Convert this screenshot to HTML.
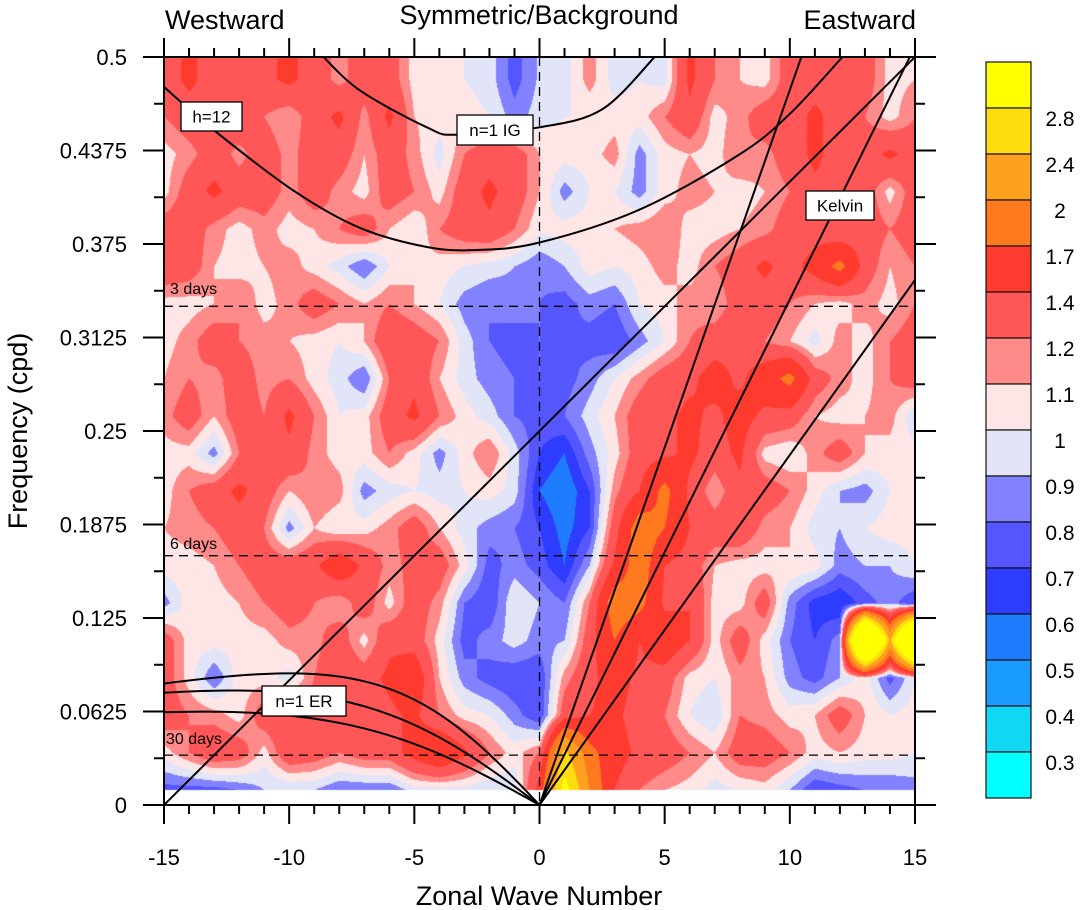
<!DOCTYPE html>
<html><head><meta charset="utf-8">
<style>
body{margin:0;background:#fff;}
#wrap{position:relative;width:1080px;height:910px;overflow:hidden;font-family:"Liberation Sans",sans-serif;}
canvas,svg{position:absolute;left:0;top:0;}
</style></head>
<body>
<div id="wrap">
<canvas id="cv" width="1080" height="910"></canvas>
<svg id="sv" width="1080" height="910"></svg>
</div>
<script>
// ---- data ----
const wavenumbers = [-15,-14,-13,-12,-11,-10,-9,-8,-7,-6,-5,-4,-3,-2,-1,0,1,2,3,4,5,6,7,8,9,10,11,12,13,14,15];
const freqs = [0.485,0.46,0.435,0.41,0.385,0.36,0.335,0.31,0.285,0.26,0.235,0.21,0.185,0.16,0.135,0.11,0.085,0.06,0.035,0.01];
const row0485=[1.3,1.45,1.3,1.3,1.35,1.45,1.3,1.15,1.3,1.3,1.05,1.05,1.0,0.95,0.75,0.92,0.95,1.15,0.95,1.0,0.95,1.45,1.2,1.1,1.05,1.3,1.3,1.35,1.3,1.05,1.1];
const row0460=[1.2,1.3,1.3,1.35,1.2,1.1,1.3,1.45,1.15,1.45,1.1,1.05,1.05,1.0,0.85,0.95,1.0,1.0,1.05,1.05,1.2,1.35,1.05,1.15,1.3,1.3,1.45,1.3,1.2,1.05,1.2];
const row0435=[1.05,1.15,1.3,1.15,1.3,1.15,1.3,1.3,1.1,1.3,1.15,0.95,1.2,1.3,1.3,1.1,1.05,1.05,1.15,0.85,1.05,1.1,1.05,1.2,1.15,1.3,1.45,1.3,1.3,1.45,1.3];
const row0410=[1.05,1.3,1.45,1.3,1.3,1.15,1.3,1.15,1.05,1.3,1.2,1.05,1.3,1.45,1.3,1.1,0.85,1.0,1.0,0.85,1.05,1.15,1.1,1.05,1.1,1.2,1.35,1.35,1.3,1.05,1.3];
const row0385=[1.3,1.3,1.15,1.05,1.15,1.05,1.1,1.2,1.3,1.1,1.0,1.2,1.3,1.35,1.2,1.02,1.05,1.05,1.1,1.15,1.2,1.05,1.05,1.1,1.15,1.3,1.3,1.2,1.3,1.2,1.3];
const row0360=[1.35,1.3,1.1,1.05,1.1,1.15,1.05,0.95,0.8,1.0,1.1,1.05,1.0,0.95,0.9,0.82,0.9,1.05,1.0,1.05,1.15,1.05,1.2,1.3,1.45,1.3,1.5,1.8,1.3,1.1,1.2];
const row0335=[1.05,1.05,1.1,1.2,1.05,1.15,1.3,1.2,1.1,1.2,1.1,1.0,0.85,0.8,0.85,0.8,0.75,0.85,0.8,1.0,1.05,1.15,1.1,1.3,1.3,1.2,1.1,1.05,1.15,1.05,1.2];
const row0310=[1.05,1.15,1.3,1.2,1.15,1.1,1.05,1.0,1.1,1.35,1.3,1.2,0.95,0.8,0.75,0.8,0.8,0.75,0.7,0.85,1.0,1.2,1.3,1.35,1.2,1.1,0.95,1.15,1.05,1.2,1.3];
const row0285=[1.1,1.2,1.15,1.3,1.15,1.2,1.05,0.95,0.8,1.2,1.35,1.1,0.95,0.85,0.8,0.8,0.75,0.85,1.0,1.15,1.3,1.35,1.5,1.35,1.55,1.8,1.3,1.15,1.05,1.2,1.3];
const row0260=[1.15,1.3,1.1,1.3,1.2,1.45,1.2,1.0,1.05,1.3,1.45,1.2,1.05,0.95,0.8,0.75,0.8,0.95,1.1,1.3,1.35,1.45,1.35,1.5,1.35,1.3,1.1,1.05,1.1,1.15,0.9];
const row0235=[1.05,1.05,0.85,1.2,1.35,1.35,1.15,1.05,1.05,1.2,1.05,0.85,1.05,1.2,0.95,0.7,0.6,0.85,1.05,1.3,1.35,1.45,1.3,1.45,1.05,1.0,1.15,1.3,1.1,1.05,1.05];
const row0210=[1.05,1.2,1.3,1.45,1.3,1.1,1.2,1.15,0.85,0.95,1.0,0.95,1.0,1.05,0.95,0.6,0.5,0.7,1.15,1.4,1.8,1.35,1.1,1.35,1.3,1.2,1.05,0.9,0.85,1.0,1.05];
const row0185=[1.1,1.15,1.2,1.3,1.2,0.85,1.1,1.0,1.05,1.15,1.3,1.1,0.95,0.85,0.8,0.7,0.55,0.7,1.3,1.9,1.7,1.4,1.3,1.35,1.15,1.1,0.95,0.9,1.0,1.05,1.05];
const row0160=[1.05,1.05,1.1,1.2,1.3,1.3,1.35,1.6,1.35,1.15,1.25,1.3,1.05,0.75,0.85,0.75,0.6,0.9,1.45,1.9,1.4,1.3,1.1,1.05,1.05,1.1,1.05,0.85,0.9,0.9,1.0];
const row0135=[0.85,1.05,1.05,1.1,1.2,1.3,1.2,1.1,1.3,1.05,1.3,1.15,0.8,0.7,1.0,0.9,0.8,1.2,1.9,1.8,1.35,1.4,1.05,1.05,1.3,0.85,0.65,0.6,0.75,0.85,0.7];
const row0110=[1.3,1.05,1.05,1.05,1.05,1.15,1.15,1.3,1.05,1.35,1.3,1.05,0.75,0.85,0.95,0.85,0.9,1.3,1.7,1.4,1.6,1.4,1.05,1.3,1.05,0.8,0.7,0.85,5.5,2.3,5.5];
const row0085=[1.3,1.05,0.8,1.05,1.05,0.95,1.2,1.35,1.3,1.45,1.6,1.1,0.85,0.75,0.7,0.7,1.15,1.35,1.5,1.35,1.3,1.05,1.0,1.15,1.1,0.85,0.75,0.9,1.05,0.75,1.0];
const row0060=[1.3,1.2,1.15,1.05,1.3,1.35,1.3,1.35,1.3,1.35,1.45,1.2,1.05,1.0,0.85,0.7,1.3,1.4,1.45,1.3,1.2,1.0,0.9,1.2,1.15,1.05,1.1,1.3,1.1,1.0,1.05];
const row0035=[1.05,1.2,1.35,1.3,1.05,1.35,1.3,1.2,1.3,1.3,1.5,1.7,1.45,1.2,1.05,1.2,2.5,1.8,1.5,1.35,1.3,1.2,1.1,1.3,1.3,1.2,1.05,1.1,1.05,1.05,1.0];
const row0010=[0.75,0.75,0.75,0.8,0.9,0.9,0.9,0.8,0.8,0.8,0.95,0.95,0.95,0.9,0.9,1.5,3.0,2.0,1.4,1.2,1.1,1.05,0.95,1.0,1.05,0.9,0.7,0.75,0.8,0.8,0.85];
const values=[row0485,row0460,row0435,row0410,row0385,row0360,row0335,row0310,row0285,row0260,row0235,row0210,row0185,row0160,row0135,row0110,row0085,row0060,row0035,row0010];
const levels=[0.3,0.4,0.5,0.6,0.7,0.8,0.9,1.0,1.1,1.2,1.4,1.7,2,2.4,2.8];
const levelLabels=["2.8","2.4","2","1.7","1.4","1.2","1.1","1","0.9","0.8","0.7","0.6","0.5","0.4","0.3"];
const colors=["#00FFFF","#10D8F4","#1A9CFF","#1F7CFF","#2E3CFF","#5656FF","#8282FF","#E2E5F8","#FFE6E6","#FF8A8A","#FF5757","#FF3B30","#FF7A1E","#FFA01E","#FFDC10","#FFFF00"];
const yTicks=[0,0.0625,0.125,0.1875,0.25,0.3125,0.375,0.4375,0.5];
const yTickLabels=["0","0.0625","0.125","0.1875","0.25","0.3125","0.375","0.4375","0.5"];
const xTicks=[-15,-10,-5,0,5,10,15];
const kelvinSlopes=[0.0478,0.0338,0.0234];
const igA_k=[-15,-13,-9.85,-7.2,-4.5,-2.5,0,4,8,10,12.1];
const igA_f=[0.48,0.451,0.411,0.386,0.373,0.371,0.376,0.398,0.435,0.462,0.5];
const igB_k=[-8.8,-7.2,-4.5,-3.3,0,2.5,4.6];
const igB_f=[0.503,0.478,0.453,0.448,0.453,0.465,0.5];
const erA=[1.76,1.875,1.674];
const erB=[100,150,180];
const periodDays=[3,6,30];

// ---- axes ----
const X0=164,X1=915,Y0=805,Y1=57;
function xOf(k){return X0+(k+15)*(X1-X0)/30;}
function yOf(f){return Y0-f*(Y0-Y1)/0.5;}

// ---- heatmap ----
const cv=document.getElementById('cv');const ctx=cv.getContext('2d');
ctx.fillStyle='#fff';ctx.fillRect(0,0,1080,910);
const rgb=colors.map(c=>[parseInt(c.substr(1,2),16),parseInt(c.substr(3,2),16),parseInt(c.substr(5,2),16)]);
const nF=freqs.length,nK=wavenumbers.length;
function sample(k,f){
  let c=(k-wavenumbers[0])/(wavenumbers[nK-1]-wavenumbers[0])*(nK-1);
  c=Math.max(0,Math.min(nK-1.0001,c));
  let r=(freqs[0]-f)/(freqs[0]-freqs[nF-1])*(nF-1);
  r=Math.max(0,Math.min(nF-1.0001,r));
  const c0=Math.floor(c),r0=Math.floor(r),dc=c-c0,dr=r-r0;
  const a=values[r0][c0],b=values[r0][c0+1],d=values[r0+1][c0],e=values[r0+1][c0+1];
  return (a*(1-dc)+b*dc)*(1-dr)+(d*(1-dc)+e*dc)*dr;
}
const yTop=Y1,yBot=Math.round(yOf(0.0102));
const img=ctx.createImageData(X1-X0,yBot-yTop);
for(let py=0;py<yBot-yTop;py++){
  const f=(Y0-(py+yTop+0.5))*0.5/(Y0-Y1);
  for(let px=0;px<X1-X0;px++){
    const k=(px+0.5)*30/(X1-X0)-15;
    const v=sample(k,f);
    let i=0;while(i<levels.length&&v>=levels[i])i++;
    const o=(py*(X1-X0)+px)*4,cc=rgb[i];
    img.data[o]=cc[0];img.data[o+1]=cc[1];img.data[o+2]=cc[2];img.data[o+3]=255;
  }
}
ctx.putImageData(img,X0,yTop);

// ---- svg overlay ----
const NS='http://www.w3.org/2000/svg';const sv=document.getElementById('sv');
function el(t,a,p){const e=document.createElementNS(NS,t);for(const k in a)e.setAttribute(k,a[k]);(p||sv).appendChild(e);return e;}
function txt(s,a,p){const e=el('text',a,p);e.textContent=s;return e;}
const clip=el('clipPath',{id:'pc'});el('rect',{x:X0,y:Y1,width:X1-X0,height:Y0-Y1},clip);
const g=el('g',{'clip-path':'url(#pc)'});


periodDays.forEach(d=>{
  const l=el('line',{x1:X0,x2:X1,y1:yOf(1/d),y2:yOf(1/d),stroke:'#000','stroke-width':1.3,'stroke-dasharray':'9,6'},g);
  
  
});
const vl=el('line',{x1:xOf(0),x2:xOf(0),y1:Y1,y2:Y0,stroke:'#000','stroke-width':1.3,'stroke-dasharray':'9,6'},g);


kelvinSlopes.forEach((s,i)=>{
  const l=el('line',{x1:xOf(0),y1:yOf(0),x2:xOf(15),y2:yOf(15*s),stroke:'#000','stroke-width':2},g);
  
  
});
const diag=el('line',{x1:xOf(-15),y1:yOf(0),x2:xOf(15),y2:yOf(0.5),stroke:'#000','stroke-width':2},g);


function smoothPath(ks,fs){
  const P=ks.map((k,i)=>[xOf(k),yOf(fs[i])]);let d='M'+P[0][0]+','+P[0][1];
  for(let i=0;i<P.length-1;i++){const p0=P[Math.max(0,i-1)],p1=P[i],p2=P[i+1],p3=P[Math.min(P.length-1,i+2)];
    d+=' C'+(p1[0]+(p2[0]-p0[0])/6)+','+(p1[1]+(p2[1]-p0[1])/6)+' '+(p2[0]-(p3[0]-p1[0])/6)+','+(p2[1]-(p3[1]-p1[1])/6)+' '+p2[0]+','+p2[1];}
  return d;
}
const ia=el('path',{d:smoothPath(igA_k,igA_f),fill:'none',stroke:'#000','stroke-width':2},g);


const ib=el('path',{d:smoothPath(igB_k,igB_f),fill:'none',stroke:'#000','stroke-width':2},g);


erA.forEach((A,i)=>{
  const B=erB[i];let d='';
  for(let k=-15;k<=0.001;k+=0.25){const f=-A*k/(k*k+B);d+=(d?'L':'M')+xOf(k)+','+yOf(f);}
  const p=el('path',{d:d,fill:'none',stroke:'#000','stroke-width':2},g);
  
  
});
[['3 days',170,294],['6 days',170,549],['30 days',166,744]].forEach(t=>{
  const e=txt(t[0],{x:t[1],y:t[2],'font-size':16,fill:'#000'});
  
  
});
[['h=12',181,102,61,29],['n=1 IG',457,115,76,30],['Kelvin',806,191,68,29],['n=1 ER',262,686,84,30]].forEach(b=>{
  const gg=el('g',{});
  
  
  el('rect',{x:b[1],y:b[2],width:b[3],height:b[4],fill:'#fff',stroke:'#000','stroke-width':1.3},gg);
  txt(b[0],{x:b[1]+b[3]/2,y:b[2]+b[4]/2+6,'font-size':17,'text-anchor':'middle'},gg);
});
const fr=el('rect',{x:X0,y:Y1,width:X1-X0,height:Y0-Y1,fill:'none',stroke:'#000','stroke-width':2});


const yax=el('g',{});


for(let i=0;i<=16;i++){
  const f=i*0.03125,y=yOf(f),maj=i%2===0;
  el('line',{x1:X0-(maj?21:10),x2:X0,y1:y,y2:y,stroke:'#000','stroke-width':2},yax);
  el('line',{x1:X1,x2:X1+(maj?21:10),y1:y,y2:y,stroke:'#000','stroke-width':2},yax);
}
yTicks.forEach((f,i)=>{
  const t=txt(yTickLabels[i],{x:127,y:yOf(f)+8,'font-size':22,'text-anchor':'end'},yax);
  
  
});
const xax=el('g',{});


for(let k=-15;k<=15;k++){
  const x=xOf(k),maj=k%5===0;
  el('line',{x1:x,x2:x,y1:Y1,y2:Y1-(maj?19:9),stroke:'#000','stroke-width':2},xax);
  el('line',{x1:x,x2:x,y1:Y0,y2:Y0+(maj?19:9),stroke:'#000','stroke-width':2},xax);
}
xTicks.forEach(k=>{
  const t=txt(String(k),{x:xOf(k),y:865,'font-size':22,'text-anchor':'middle'},xax);
  
  
});
const xt=txt('Zonal Wave Number',{x:539,y:905,'font-size':27,'text-anchor':'middle'});


const yt=txt('Frequency (cpd)',{x:0,y:0,'font-size':27,'text-anchor':'middle',transform:'translate(27,431) rotate(-90)'});


const t1=txt('Westward',{x:165,y:29,'font-size':27});


const t2=txt('Symmetric/Background',{x:539,y:24,'font-size':27,'text-anchor':'middle'});


const t3=txt('Eastward',{x:916,y:29,'font-size':27,'text-anchor':'end'});


const cb=el('g',{});


for(let i=0;i<16;i++){
  const r=el('rect',{x:986,y:62+46*i,width:45,height:46,fill:colors[15-i],stroke:'#111','stroke-width':1.2},cb);
  
  
}
levelLabels.forEach((s,i)=>{
  const t=txt(s,{x:1060,y:118+46*i+8,'font-size':21,'text-anchor':'middle'},cb);
  
  
});
</script>
</body></html>
